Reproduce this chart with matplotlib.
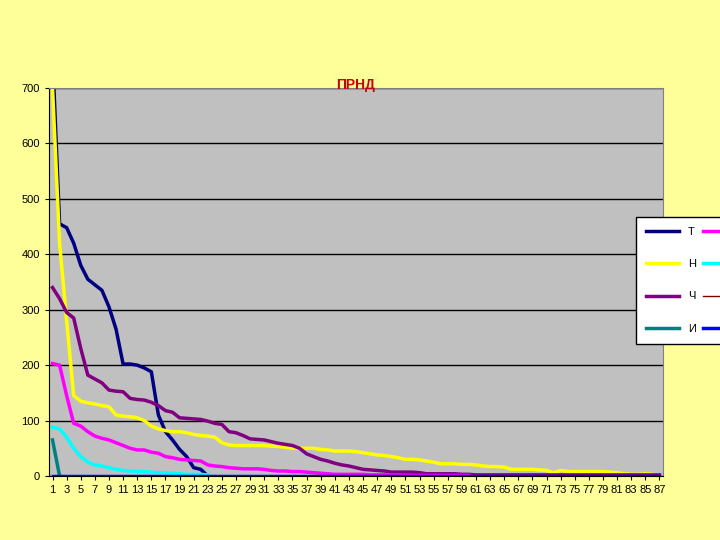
import matplotlib
matplotlib.use("Agg")
import matplotlib.pyplot as plt
import numpy as np

plt.rcParams['font.family'] = ['Liberation Sans', 'DejaVu Sans']

x = list(range(1, 88))
T = [760, 455, 448, 420, 380, 355, 345, 335, 305, 265, 202, 202, 200, 195, 188, 110, 80, 65, 48, 35, 15, 12, 0]
N = [700, 420, 280, 145, 135, 132, 130, 127, 125, 110, 108, 107, 105, 100, 90, 85, 82, 80, 80, 78,
     75, 73, 72, 70, 60, 56, 55, 55, 55, 55, 55, 54, 53, 52, 50, 50, 50, 50, 48, 47,
     45, 45, 45, 44, 42, 40, 38, 37, 35, 33, 30, 30, 29, 27, 25, 22, 22, 22, 21, 21,
     20, 18, 17, 17, 16, 12, 12, 12, 12, 11, 10, 6, 10, 8, 8, 8, 8, 8, 8, 7,
     6, 4, 3, 3, 4, 3, 0]
CH = [340, 320, 295, 285, 230, 182, 175, 168, 155, 153, 152, 140, 138, 137, 133, 127, 118, 115, 105, 104,
      103, 102, 99, 95, 93, 80, 78, 73, 67, 66, 65, 62, 59, 57, 55, 50, 40, 35, 30, 27,
      23, 20, 18, 15, 12, 11, 10, 9, 7, 7, 7, 7, 6, 4, 4, 4, 4, 4, 3, 3,
      2, 2, 2, 2, 2, 2, 2, 2, 2, 2, 2, 2, 2, 2, 2, 2, 2, 2, 2, 2,
      2, 2, 2, 2, 2, 2, 2]
YA = [203, 200, 145, 95, 90, 80, 72, 68, 65, 60, 55, 50, 47, 47, 43, 41, 35, 33, 30, 29,
      28, 27, 20, 18, 17, 15, 14, 13, 13, 13, 12, 10, 9, 9, 8, 8, 7, 6, 5, 4,
      3, 3, 3, 3, 3, 2, 2, 2, 2, 2, 1, 1, 1, 1, 1, 1, 1, 1, 1, 1]
U = [88, 85, 70, 50, 35, 25, 20, 18, 15, 12, 10, 9, 8, 8, 7, 6, 6, 5, 4, 3, 3, 3, 2]
I = [65, 0]
TS = [0] * 87
D = [0] * 87

fig = plt.figure(figsize=(7.2, 5.4), dpi=100)
fig.patch.set_facecolor('#FFFF99')
ax = fig.add_axes([49/720, 1-476/540, (663-49)/720, (476-88)/540])
ax.set_facecolor('#C0C0C0')

lines = []
lines.append(ax.plot(x[:len(T)], T, color='#000080', lw=2.5, label='Т')[0])
lines.append(ax.plot(x[:len(N)], N, color='#FFFF00', lw=2.5, label='Н')[0])
lines.append(ax.plot(x[:len(CH)], CH, color='#800080', lw=2.5, label='Ч')[0])
lines.append(ax.plot(x[:len(I)], I, color='#008080', lw=2.5, label='И')[0])
lines.append(ax.plot(x[:len(YA)], YA, color='#FF00FF', lw=2.5, label='Я')[0])
lines.append(ax.plot(x[:len(U)], U, color='#00FFFF', lw=2.5, label='У')[0])
lines.append(ax.plot(x, TS, color='#800000', lw=1, label='Ц')[0])
lines.append(ax.plot(x, D, color='#0000FF', lw=2.5, label='Д')[0])

ax.set_xlim(0.5, 87.5)
ax.set_ylim(0, 700)
ax.set_yticks(range(0, 701, 100))
ax.set_xticks(range(1, 88, 2))
ax.tick_params(labelsize=8, length=3, direction='out')
ax.yaxis.grid(True, color='black', lw=1)
ax.set_axisbelow(True)
for s in ax.spines.values():
    s.set_color('#808080')
ax.spines['left'].set_color('black')
ax.spines['bottom'].set_color('black')

ax.text(0.5, 1.007, 'ПРНД', transform=ax.transAxes, ha='center', va='center',
        color='#CC0000', fontsize=10, fontweight='bold', clip_on=False)

leg = fig.legend(handles=lines, ncol=2, loc='upper left', bbox_to_anchor=(636/720, 1-217/540),
                 fontsize=8, frameon=True, fancybox=False, edgecolor='black',
                 labelspacing=2.0, handlelength=3, columnspacing=0.6, borderpad=0.9,
                 borderaxespad=0, framealpha=1)
leg.get_frame().set_facecolor('white')

fig.savefig('out.png', dpi=100, facecolor=fig.get_facecolor())
